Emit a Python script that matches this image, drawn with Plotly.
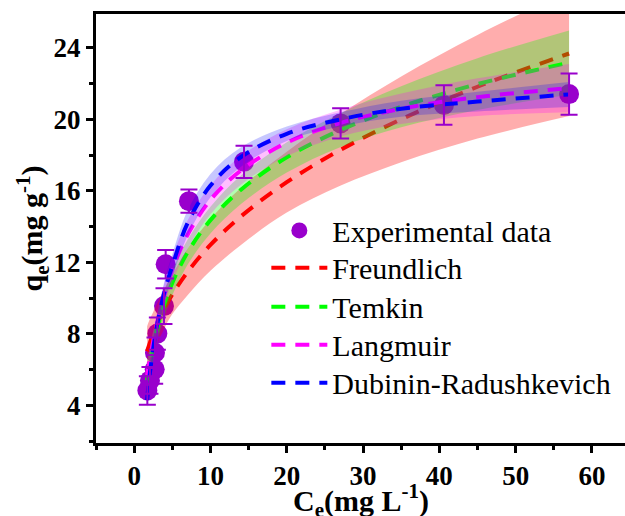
import plotly.graph_objects as go

# Experimental data
exp_x = [1.73, 2.07, 2.69, 2.73, 3.04, 3.91, 4.13, 7.18, 14.4, 27.06, 40.6, 57.0]
exp_y = [4.84, 5.40, 6.02, 6.95, 8.02, 9.56, 11.9, 15.43, 17.63, 19.78, 20.81, 21.42]
exp_err = [0.8, 0.75, 0.8, 0.85, 0.9, 1.0, 0.8, 0.65, 0.9, 0.85, 1.1, 1.15]

# Fitted curves
fit_x = [1.7, 2, 2.5, 3, 4, 5, 7, 10, 14, 20, 27, 35, 45, 57]
freund_y = [7.03, 7.43, 8.03, 8.55, 9.45, 10.21, 11.47, 12.98, 14.58, 16.49, 18.29, 20.01, 21.83, 23.69]
freund_up = [8.43, 8.78, 9.23, 9.70, 10.55, 11.31, 12.77, 14.43, 16.18, 18.19, 20.29, 22.41, 24.73, 27.19]
freund_lo = [5.63, 6.08, 6.83, 7.40, 8.35, 9.11, 10.17, 11.53, 12.98, 14.79, 16.29, 17.61, 18.93, 20.19]

temkin_y = [5.41, 6.23, 7.35, 8.28, 9.73, 10.86, 12.57, 14.37, 16.07, 17.88, 19.40, 20.71, 21.98, 23.18]
temkin_up = [6.41, 7.13, 8.15, 9.03, 10.43, 11.56, 13.27, 15.12, 16.87, 18.73, 20.35, 21.86, 23.43, 24.98]
temkin_lo = [4.41, 5.33, 6.55, 7.53, 9.03, 10.16, 11.87, 13.62, 15.27, 17.03, 18.45, 19.56, 20.53, 21.38]

lang_y = [5.7, 6.45, 7.6, 8.6, 10.25, 11.6, 13.55, 15.5, 17.15, 18.7, 19.8, 20.6, 21.25, 21.75]
lang_up = [6.3, 7.05, 8.2, 9.2, 10.9, 12.3, 14.35, 16.3, 17.95, 19.45, 20.55, 21.45, 22.3, 23.1]
lang_lo = [5.1, 5.85, 7.0, 8.0, 9.6, 10.9, 12.75, 14.7, 16.35, 17.95, 19.05, 19.75, 20.2, 20.4]

dr_y = [4.3, 5.6, 7.2, 8.5, 10.4, 11.8, 14.2, 16.3, 17.9, 19.2, 20.0, 20.6, 21.0, 21.4]
dr_up = [4.75, 6.05, 7.7, 9.05, 11.0, 12.45, 14.9, 16.95, 18.45, 19.6, 20.4, 21.05, 21.55, 22.1]
dr_lo = [3.85, 5.15, 6.7, 7.95, 9.8, 11.15, 13.5, 15.65, 17.35, 18.8, 19.6, 20.15, 20.45, 20.7]

x_ticks = [0, 10, 20, 30, 40, 50, 60]
y_ticks = [4, 8, 12, 16, 20, 24]

PURPLE = "#9900CC"
FONT = "Liberation Serif"

models = [
    ("Freundlich", freund_y, freund_up, freund_lo, "#FF0000", "rgba(255,0,0,0.32)", "legend2"),
    ("Temkin", temkin_y, temkin_up, temkin_lo, "#00FF00", "rgba(0,255,0,0.3)", "legend3"),
    ("Langmuir", lang_y, lang_up, lang_lo, "#FF00FF", "rgba(255,0,255,0.25)", "legend4"),
    ("Dubinin-Radushkevich", dr_y, dr_up, dr_lo, "#0000FF", "rgba(0,0,255,0.22)", "legend5"),
]

fig = go.Figure()

fig.add_trace(go.Scatter(
    x=exp_x, y=exp_y, mode="markers", name="Experimental data", legend="legend",
    marker=dict(size=20, color=PURPLE),
))

for name, yv, up, lo, col, fcol, leg in models:
    fig.add_trace(go.Scatter(
        x=fit_x, y=yv, mode="lines", name=name, legend=leg,
        line=dict(color=col, width=4, dash="14px,10px", shape="spline"),
    ))
    fig.add_trace(go.Scatter(
        x=fit_x, y=lo, mode="lines", showlegend=False, hoverinfo="skip",
        line=dict(width=0, shape="spline", color=fcol),
    ))
    fig.add_trace(go.Scatter(
        x=fit_x, y=up, mode="lines", showlegend=False, hoverinfo="skip",
        line=dict(width=0, shape="spline", color=fcol),
        fill="tonexty", fillcolor=fcol,
    ))

fig.add_trace(go.Scatter(
    x=exp_x, y=exp_y, mode="markers", showlegend=False, hoverinfo="skip",
    marker=dict(size=1, color="rgba(0,0,0,0)"),
    error_y=dict(type="data", array=exp_err, color=PURPLE, thickness=2, width=8.5),
))

tickfont = dict(family=FONT, size=27, color="black", weight="bold")
titlefont = dict(family=FONT, size=30, color="black", weight="bold")


def leg(ypix):
    return dict(
        x=0.322, y=1 - (ypix - 14) / 428.7, xanchor="left", yanchor="middle",
        font=dict(family=FONT, size=30, color="black"),
        bgcolor="rgba(0,0,0,0)", itemwidth=56, borderwidth=0,
    )


fig.update_layout(
    width=625, height=516,
    margin=dict(l=96, r=0, t=14, b=73, autoexpand=False),
    paper_bgcolor="white", plot_bgcolor="white",
    font=dict(family=FONT, color="black"),
    showlegend=True,
    legend=leg(230.3),
    legend2=leg(267.5),
    legend3=leg(306.5),
    legend4=leg(344.5),
    legend5=leg(382.5),
    xaxis=dict(
        range=[-5, 64.33], tickmode="array", tickvals=x_ticks,
        tickfont=tickfont, automargin=False,
        showgrid=False, zeroline=False,
        showline=True, linecolor="black", linewidth=3, mirror=True,
        ticks="outside", ticklen=7, tickwidth=3, tickcolor="black",
        minor=dict(dtick=5, tick0=0, ticks="outside", ticklen=4, tickwidth=3, tickcolor="black"),
    ),
    yaxis=dict(
        range=[1.9, 25.9], tickmode="array", tickvals=y_ticks,
        tickfont=tickfont, automargin=False,
        showgrid=False, zeroline=False,
        showline=True, linecolor="black", linewidth=3, mirror=False,
        ticks="outside", ticklen=7, tickwidth=3, tickcolor="black",
        minor=dict(dtick=2, tick0=0, ticks="outside", ticklen=4, tickwidth=3, tickcolor="black"),
        title=dict(text="q<sub>e</sub>(mg g<sup>-1</sup>)", font=titlefont, standoff=2),
    ),
    annotations=[dict(
        text="C<sub>e</sub>(mg L<sup>-1</sup>)", font=titlefont,
        xref="paper", yref="paper", x=0.5, y=-(500 - 442.7) / 428.7,
        xanchor="center", yanchor="middle", showarrow=False,
    )],
)

fig.write_html("out.html")
